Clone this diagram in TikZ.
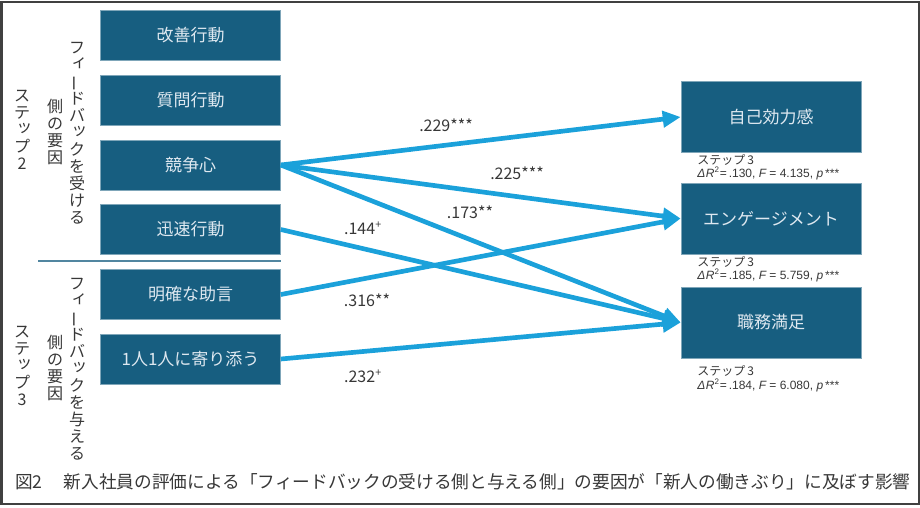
\documentclass[tikz,border=0pt]{standalone}
\usepackage{fontspec}
\setmainfont{Noto Sans CJK JP}
\newfontfamily\statfont{Liberation Sans}
\usetikzlibrary{arrows.meta}
\newcommand\smk[1]{\makebox[1em][l]{\hspace{.15em}\raisebox{.2em}[0pt][0pt]{#1}}} % small kana, vertical
\newcommand\vbar{\rotatebox[origin=c]{90}{ー}}                                    % long vowel, vertical

\begin{document}
\begin{tikzpicture}[x=0.75pt,y=-0.75pt]
\definecolor{boxcol}{RGB}{23,94,128}
\definecolor{boxtxt}{RGB}{222,232,240}
\definecolor{arrcol}{RGB}{27,161,218}
\definecolor{txtcol}{RGB}{55,55,55}
\colorlet{sepcol}{boxcol!75!white}
\tikzstyle{myarr}=[-{Triangle[length=13.5pt,width=12pt]}]
\tikzset{
factor/.style={draw=boxcol!55!white,line width=0.4pt,fill=boxcol,text=boxtxt,
  minimum width=135pt,minimum height=37.5pt,inner sep=0pt,font=\fontsize{12.75}{14}\selectfont},
outcome/.style={factor,minimum height=53pt},
effect/.style={myarr,arrcol,line width=3.5pt},
coef/.style={text=txtcol,inner sep=0pt,font=\fontsize{12}{14}\selectfont},
stat/.style={anchor=west,text=txtcol,inner sep=0pt,font=\fontsize{9}{10}\selectfont},
tate/.style={align=center,text=txtcol,inner sep=0pt,font=\fontsize{12}{12.75}\selectfont},
caption/.style={anchor=west,text=txtcol,inner sep=0pt,font=\fontsize{13.25}{15}\selectfont},
outerframe/.style={draw=black!75,line width=1.5pt},
}
	\useasboundingbox (0,0) rectangle (920,507);
	\draw[outerframe] (1.5,1.5) rectangle (918.5,503.5);
	
	% FEEDBACK FACTORS
	\foreach \name/\txt/\y in {kaizen/改善行動/35.5, shitsumon/質問行動/100,
		kyoso/競争心/165, jinsoku/迅速行動/229.5,
		meikaku/明確な助言/294.5, yorisou/1人1人に寄り添う/359}{
		\node[factor] (\name) at (190.5,\y) {\txt};
	}
	
	% OUTCOMES + STEP 3 FIT
	\foreach \name/\txt/\y/\sa/\sb/\dr/\fv in {
		jiko/自己効力感/117/160/173.5/.130/4.135,
		engage/エンゲージメント/218.5/262/275.5/.185/5.759,
		shoku/職務満足/322.5/371/385/.184/6.080}{
		\node[outcome] (\name) at (771,\y) {\txt};
		\node[stat] (\name-step) at (697,\sa) {ステップ\,3};
		\node[stat] (\name-fit) at (697,\sb)
		{\statfont{\itshape Δ\kern.5pt R}\textsuperscript{2}=\,\dr, {\itshape F} = \fv, {\itshape p}\,***};
	}
	
	% STEP LABELS (vertical)
	\node[tate] (step2) at (22,130) {ス\\テ\\\smk{ッ}\\プ\\2};
	\node[tate] (side2) at (55,132) {側\\の\\要\\因};
	\node[tate] (recv)  at (77,133) {フ\\\smk{ィ}\\\vbar\\ド\\バ\\\smk{ッ}\\ク\\を\\受\\け\\る};
	\node[tate] (step3) at (22,366) {ス\\テ\\\smk{ッ}\\プ\\3};
	\node[tate] (side3) at (55,368) {側\\の\\要\\因};
	\node[tate] (give)  at (77,369) {フ\\\smk{ィ}\\\vbar\\ド\\バ\\\smk{ッ}\\ク\\を\\与\\え\\る};
	
	% SEPARATOR
	\coordinate (sepL) at (38,261);
	\draw[sepcol,line width=1.1pt] (sepL) -- (sepL -| meikaku.east);
	
	% PATHS
	\draw[effect] (kyoso.east) -- (jiko.west);
	\draw[effect] (kyoso.east) -- (engage.west);
	\draw[effect] (kyoso.east) -- (shoku.west);
	\draw[effect] (jinsoku.east) -- (shoku.west);
	\draw[effect] (meikaku.east) -- (engage.west);
	\draw[effect] (yorisou.east) -- (shoku.west);
	
	% COEFFICIENTS
	\node[coef] (c229) at (446,125) {.229***};
	\node[coef] (c225) at (517,173) {.225***};
	\node[coef] (c173) at (470,212) {.173**};
	\node[coef] (c144) at (363,228) {.144\textsuperscript{+}};
	\node[coef] (c316) at (367,300) {.316**};
	\node[coef] (c232) at (363,376) {.232\textsuperscript{+}};
	
	% CAPTION
	\node[caption] (cap) at (15,482)
	{図2\hspace{1.2em}新入社員の評価による「フィードバックの受ける側と与える側」の要因が「新人の働きぶり」に及ぼす影響};
	
\end{tikzpicture}
\end{document}
